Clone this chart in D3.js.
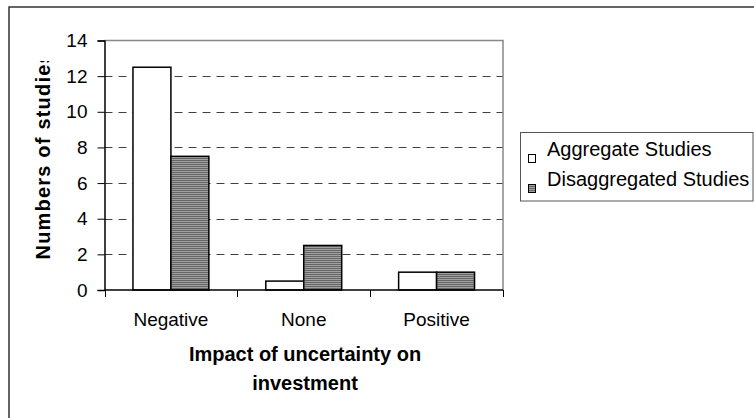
<!DOCTYPE html>
<html>
<head>
<meta charset="utf-8">
<script src="https://cdn.jsdelivr.net/npm/d3@7"></script>
<style>
  html, body { margin: 0; padding: 0; background: #fff; }
  svg { display: block; }
  text { font-family: "Liberation Sans", Arial, sans-serif; fill: #000; }
</style>
</head>
<body>
<svg id="chart" width="754" height="418"></svg>
<script>
// ---- data ----
const categories = ["Negative", "None", "Positive"];
const seriesNames = ["Aggregate Studies", "Disaggregated Studies"];
const aggregateValues = [12.5, 0.5, 1];
const disaggregatedValues = [7.5, 2.5, 1];
const yTickValues = [0, 2, 4, 6, 8, 10, 12, 14];
const xTitleLines = ["Impact of uncertainty on", "investment"];
const yTitle = "Numbers of studies";

const svg = d3.select("#chart");

// pattern for disaggregated bars
const defs = svg.append("defs");
const pat = defs.append("pattern")
  .attr("id", "hatch").attr("patternUnits", "userSpaceOnUse")
  .attr("width", 4).attr("height", 2);
pat.append("rect").attr("width", 4).attr("height", 2).attr("fill", "#a0a0a0");
pat.append("rect").attr("width", 4).attr("height", 1).attr("fill", "#666666");

// outer frame
svg.append("rect").attr("x", 9).attr("y", 7).attr("width", 800).attr("height", 500)
  .attr("fill", "none").attr("stroke", "#333").attr("stroke-width", 1.5);

const plot = { left: 104.5, right: 503, top: 40.5, bottom: 290 };

const x = d3.scaleBand().domain(categories).range([plot.left, plot.right]).padding(0);
const bw = x.bandwidth();
const gap = bw * 0.75 / 3.5;
const x1 = d3.scaleBand().domain(seriesNames).range([gap, bw - gap]).padding(0);
const y = d3.scaleLinear().domain([0, 14]).range([plot.bottom, plot.top]);

// gridlines
svg.append("g").selectAll("line")
  .data(yTickValues.filter(v => v > 0 && v < 14))
  .join("line")
  .attr("x1", plot.left).attr("x2", plot.right)
  .attr("y1", d => Math.round(y(d)) + 0.5).attr("y2", d => Math.round(y(d)) + 0.5)
  .attr("stroke", "#404040").attr("stroke-width", 1).attr("stroke-dasharray", "8,6");

// plot border top & right (gray)
svg.append("path")
  .attr("d", `M${plot.left},${y(14)}H${plot.right}V${plot.bottom}`)
  .attr("fill", "none").attr("stroke", "#888").attr("stroke-width", 1.5);

// bars
const rows = categories.map((c, i) => ({ cat: c, vals: [aggregateValues[i], disaggregatedValues[i]] }));
const groups = svg.append("g").selectAll("g").data(rows).join("g")
  .attr("transform", d => `translate(${x(d.cat)},0)`);
groups.selectAll("rect")
  .data(d => d.vals.map((v, j) => ({ s: seriesNames[j], v, j })))
  .join("rect")
  .attr("x", d => x1(d.s))
  .attr("width", x1.bandwidth())
  .attr("y", d => y(d.v))
  .attr("height", d => y(0) - y(d.v))
  .attr("fill", d => d.j === 0 ? "#fff" : "url(#hatch)")
  .attr("stroke", "#000").attr("stroke-width", 1.5);

// y axis
const yAxis = svg.append("g")
  .attr("transform", `translate(${plot.left},0)`)
  .call(d3.axisLeft(y).tickValues(yTickValues).tickFormat(d3.format("d")).tickSize(7).tickPadding(10));
yAxis.select(".domain").attr("stroke", "#000").attr("stroke-width", 1.5);
yAxis.selectAll(".tick line").attr("stroke", "#000").attr("stroke-width", 1);
yAxis.selectAll(".tick text")
  .style("font-family", '"Liberation Sans", Arial, sans-serif')
  .style("font-size", "19px").attr("fill", "#000");

// x axis line
svg.append("line").attr("x1", plot.left).attr("x2", plot.right)
  .attr("y1", plot.bottom).attr("y2", plot.bottom)
  .attr("stroke", "#000").attr("stroke-width", 1.5);
// boundary ticks
const bounds = categories.map(c => x(c)).concat([x(categories[categories.length - 1]) + bw]);
svg.append("g").selectAll("line").data(bounds).join("line")
  .attr("x1", d => Math.round(d) + 0.5).attr("x2", d => Math.round(d) + 0.5)
  .attr("y1", plot.bottom).attr("y2", plot.bottom + 7)
  .attr("stroke", "#000").attr("stroke-width", 1);
// category labels
svg.append("g").selectAll("text").data(categories).join("text")
  .attr("x", d => x(d) + bw / 2)
  .attr("y", 326)
  .attr("text-anchor", "middle")
  .style("font-size", "19px")
  .text(d => d);

// x title
svg.append("g").selectAll("text").data(xTitleLines).join("text")
  .attr("x", 305)
  .attr("y", (d, i) => 361 + i * 28.5)
  .attr("text-anchor", "middle")
  .style("font-size", "20px").style("font-weight", "bold")
  .text(d => d);

// y title (clipped at top, as in the original)
defs.append("clipPath").attr("id", "ytclip")
  .append("rect").attr("x", 0).attr("y", 61).attr("width", 100).attr("height", 300);
svg.append("g").attr("clip-path", "url(#ytclip)")
  .append("text")
  .attr("transform", "translate(50,259.5) rotate(-90)")
  .attr("text-anchor", "start")
  .style("font-size", "20px").style("font-weight", "bold")
  .style("letter-spacing", "1.2px")
  .text(yTitle);

// legend
const lg = svg.append("g");
lg.append("rect").attr("x", 520.5).attr("y", 132.5).attr("width", 232.5).attr("height", 68.5)
  .attr("fill", "#fff").attr("stroke", "#555").attr("stroke-width", 1);
const items = lg.selectAll("g").data(seriesNames).join("g")
  .attr("transform", (d, i) => `translate(0,${i * 30})`);
items.append("rect")
  .attr("x", 528.5).attr("y", 154.5).attr("width", 7).attr("height", 8)
  .attr("fill", (d, i) => i === 0 ? "#fff" : "url(#hatch)")
  .attr("stroke", "#000").attr("stroke-width", 1);
items.append("text")
  .attr("x", 547).attr("y", 156)
  .style("font-size", "20px")
  .text(d => d);
</script>
</body>
</html>
